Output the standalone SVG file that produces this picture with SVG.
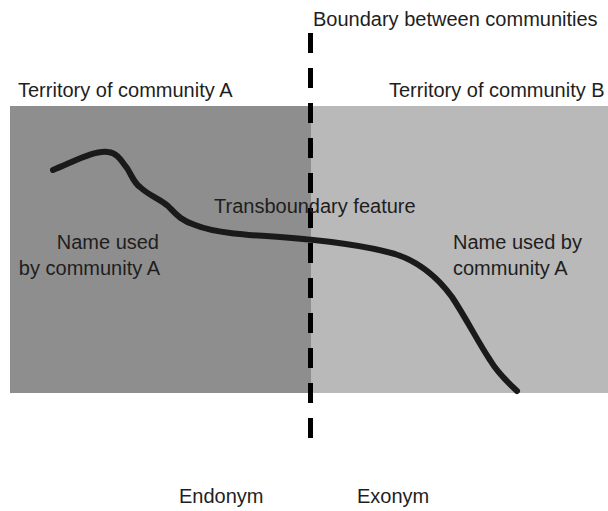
<svg xmlns="http://www.w3.org/2000/svg" width="608" height="511" viewBox="0 0 608 511">
  <style>
    .lbl { font-family: "Liberation Sans", Arial, sans-serif; font-size: 20px; fill: #1e1e1e; }
    .boundary { stroke: #000; stroke-width: 5; stroke-dasharray: 20 15; fill: none; }
    .feature { stroke: #1a1a1a; stroke-width: 6; fill: none; stroke-linecap: round; stroke-linejoin: round; }
  </style>
  <rect width="608" height="511" fill="#ffffff"/>

  <!-- territories -->
  <g id="territory-a">
    <rect x="10" y="106" width="301" height="287" fill="#8e8e8e"/>
    <text class="lbl" x="18" y="97">Territory of community A</text>
  </g>
  <g id="territory-b">
    <rect x="311" y="106" width="297" height="287" fill="#b9b9b9"/>
    <text class="lbl" x="389" y="97">Territory of community B</text>
  </g>

  <!-- connectors: boundary line and transboundary feature -->
  <g id="connectors">
    <line class="boundary" x1="310.5" y1="33" x2="310.5" y2="438"/>
    <path class="feature" d="M53,170 C75,161 95,150 108,152 C118,153 122,162 127,168 C132,176 134,183 140,187 C148,195 160,199 168,206 C176,214 180,220 195,225 C215,233 245,235 280,237 C320,240 360,244 395,254 C420,262 438,278 452,297 C466,318 478,342 490,360 C496,370 505,380 517,391"/>
  </g>

  <!-- labels -->
  <g id="boundary-label">
    <text class="lbl" x="313" y="26">Boundary between communities</text>
  </g>
  <g id="feature-label">
    <text class="lbl" x="214" y="213">Transboundary feature</text>
  </g>
  <g id="name-a">
    <text class="lbl" x="159" y="249" text-anchor="end">Name used</text>
    <text class="lbl" x="160" y="275" text-anchor="end">by community A</text>
  </g>
  <g id="name-b">
    <text class="lbl" x="453" y="249">Name used by</text>
    <text class="lbl" x="453" y="275">community A</text>
  </g>
  <g id="endonym">
    <text class="lbl" x="179" y="503">Endonym</text>
  </g>
  <g id="exonym">
    <text class="lbl" x="357" y="503">Exonym</text>
  </g>
</svg>
